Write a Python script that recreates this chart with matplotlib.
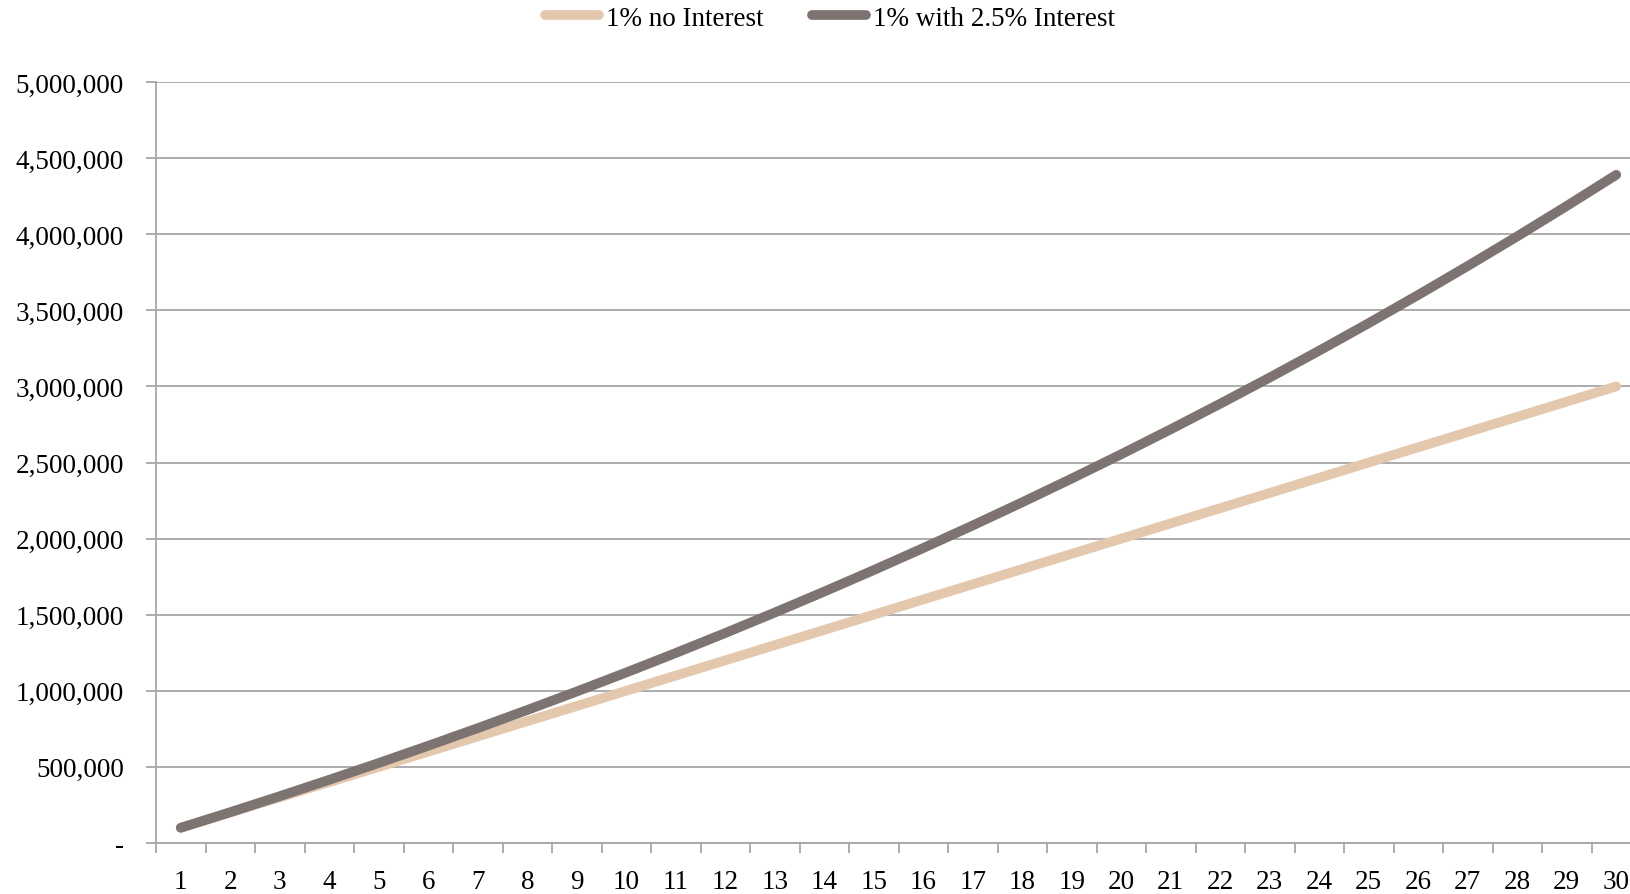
import matplotlib
matplotlib.use("Agg")
import matplotlib.pyplot as plt
from matplotlib.ticker import FuncFormatter, FixedLocator

years = list(range(1, 31))
no_interest = [100000, 200000, 300000, 400000, 500000, 600000, 700000, 800000, 900000, 1000000,
               1100000, 1200000, 1300000, 1400000, 1500000, 1600000, 1700000, 1800000, 1900000, 2000000,
               2100000, 2200000, 2300000, 2400000, 2500000, 2600000, 2700000, 2800000, 2900000, 3000000]
with_interest = [100000, 202500, 307563, 415252, 525633, 638774, 754743, 873612, 995452, 1120338,
                 1248347, 1379555, 1514044, 1651895, 1793193, 1938023, 2086473, 2238635, 2394601, 2554466,
                 2718327, 2886286, 3058443, 3234904, 3415776, 3601171, 3791200, 3985980, 4185630, 4390270]

plt.rcParams['font.family'] = ['Liberation Serif', 'DejaVu Serif']
fs = 19.5
grid_col = '#A6A6A6'

fig = plt.figure(figsize=(16.3, 8.95), dpi=100)
W, H = 1630, 895
left, right, top, bottom = 156, 156 + 30 * 49.5, 83, 844
ax = fig.add_axes([left / W, 1 - bottom / H, (right - left) / W, (bottom - top) / H])

x = list(range(len(years)))
ax.plot(x, no_interest, color='#E4C8AE', lw=7, solid_capstyle='round', label='1% no Interest', zorder=3)
ax.plot(x, with_interest, color='#7D7471', lw=7, solid_capstyle='round', label='1% with 2.5% Interest', zorder=4)

ax.set_xlim(-0.5, len(years) - 0.5)
ax.set_ylim(0, 5000000)
ax.set_yticks(range(0, 5000001, 500000))
ax.yaxis.set_major_formatter(FuncFormatter(lambda v, p: '-' if v == 0 else f'{int(v):,}'))
ax.grid(axis='y', color=grid_col, lw=1.3)
ax.set_axisbelow(True)

# category labels centred, tick marks on the boundaries
ax.set_xticks(x)
ax.set_xticklabels([str(y) for y in years])
ax.tick_params(axis='x', which='major', length=0, pad=19, labelsize=fs)
ax.xaxis.set_minor_locator(FixedLocator([i - 0.5 for i in range(len(years) + 1)]))
ax.tick_params(axis='x', which='minor', length=7, width=1.3, color=grid_col)
ax.tick_params(axis='y', length=7, width=1.3, color=grid_col, pad=16, labelsize=fs)

for s in ['top', 'right']:
    ax.spines[s].set_visible(False)
for s in ['left', 'bottom']:
    ax.spines[s].set_color(grid_col)
    ax.spines[s].set_linewidth(1.3)

fig.legend(loc='center', bbox_to_anchor=(830 / W, 1 - 19 / H), ncol=2, frameon=False, fontsize=fs,
           handlelength=2.0, handletextpad=0.25, columnspacing=1.8)

fig.savefig('out.png', dpi=100)
